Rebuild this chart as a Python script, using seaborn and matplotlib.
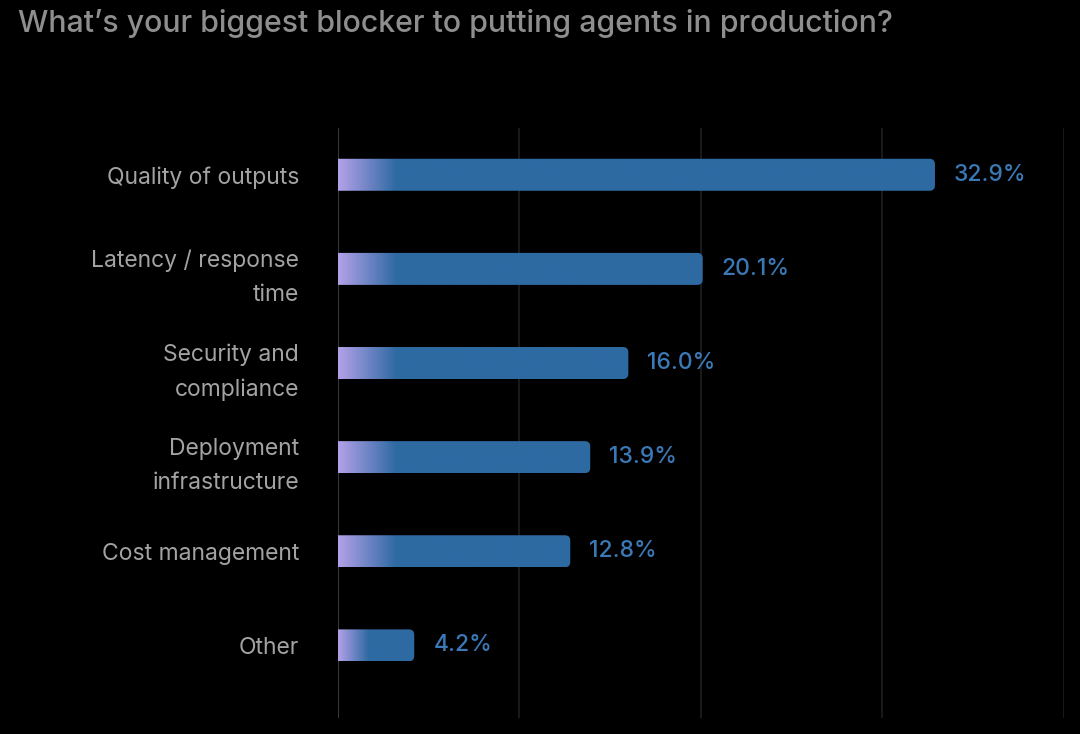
import numpy as np
import pandas as pd
import seaborn as sns
import matplotlib.pyplot as plt
from matplotlib.patches import FancyBboxPatch
from matplotlib.colors import to_rgb

# survey answers, top to bottom
categories = ["Quality of outputs", "Latency / response\ntime", "Security and\ncompliance",
              "Deployment\ninfrastructure", "Cost management", "Other"]
shares = [32.9, 20.1, 16.0, 13.9, 12.8, 4.2]
value_labels = ["32.9%", "20.1%", "16.0%", "13.9%", "12.8%", "4.2%"]
x_ticks = [0, 10, 20, 30, 40]

bar_blue = "#2e6aa2"
lavender = "#b3a1e9"
label_blue = "#3b79b6"

sns.set_style("dark", {"axes.facecolor": "black", "figure.facecolor": "black"})
plt.rcParams["font.family"] = ["Inter", "DejaVu Sans"]

df = pd.DataFrame({"category": categories, "share": shares})

fig = plt.figure(figsize=(10.8, 7.34), dpi=100)
ax = fig.add_axes([0.313, 0.022, 0.672, 0.804])
sns.barplot(data=df, x="share", y="category", orient="h", color=bar_blue,
            width=0.34, ax=ax)

xlim = (0, 40)
ylim = (5.77, -0.5)

# swap plain bars for rounded, gradient-filled ones
c0 = np.array(to_rgb(lavender))
c1 = np.array(to_rgb(bar_blue))
for p in ax.patches:
    x, y, w, h = p.get_x(), p.get_y(), p.get_width(), p.get_height()
    p.set_visible(False)
    grad_len = min(3.2, 0.4 * w)
    xs = np.linspace(0, w, 400)
    t = np.clip(xs / grad_len, 0, 1)[:, None]
    img = (c0 * (1 - t) + c1 * t)[None, :, :]
    clip = FancyBboxPatch((x - 1, y), w + 1, h, boxstyle="round,pad=0,rounding_size=0.3",
                          mutation_aspect=0.19, transform=ax.transData,
                          facecolor="none", edgecolor="none")
    ax.add_patch(clip)
    im = ax.imshow(img, extent=(x, x + w, y + h, y), aspect="auto", zorder=3)
    im.set_clip_path(clip)

for i, (v, lab) in enumerate(zip(shares, value_labels)):
    ax.text(v + 1.05, i, lab, color=label_blue, fontsize=16.5, fontweight="medium",
            va="center", ha="left")

ax.set_xlim(*xlim)
ax.set_ylim(*ylim)
ax.set_xticks(x_ticks)
ax.set_xticklabels([])
ax.grid(axis="x", color="#1f1f1f", linewidth=1.2)
ax.grid(axis="y", visible=False)
ax.set_axisbelow(True)
for s in ax.spines.values():
    s.set_visible(False)
ax.axvline(0, color="#363636", linewidth=1.5, zorder=1)
ax.set_xlabel("")
ax.set_ylabel("")
ax.tick_params(axis="both", length=0)
ax.tick_params(axis="y", pad=28, labelsize=16.5, labelcolor="#a3a3a3")
for t in ax.get_yticklabels():
    t.set_linespacing(1.75)

fig.text(0.017, 0.988, "What\u2019s your biggest blocker to putting agents in production?",
         color="#8e8e8e", fontsize=21.8, fontweight="medium", ha="left", va="top")

fig.savefig("out.png", dpi=100, facecolor="black")
